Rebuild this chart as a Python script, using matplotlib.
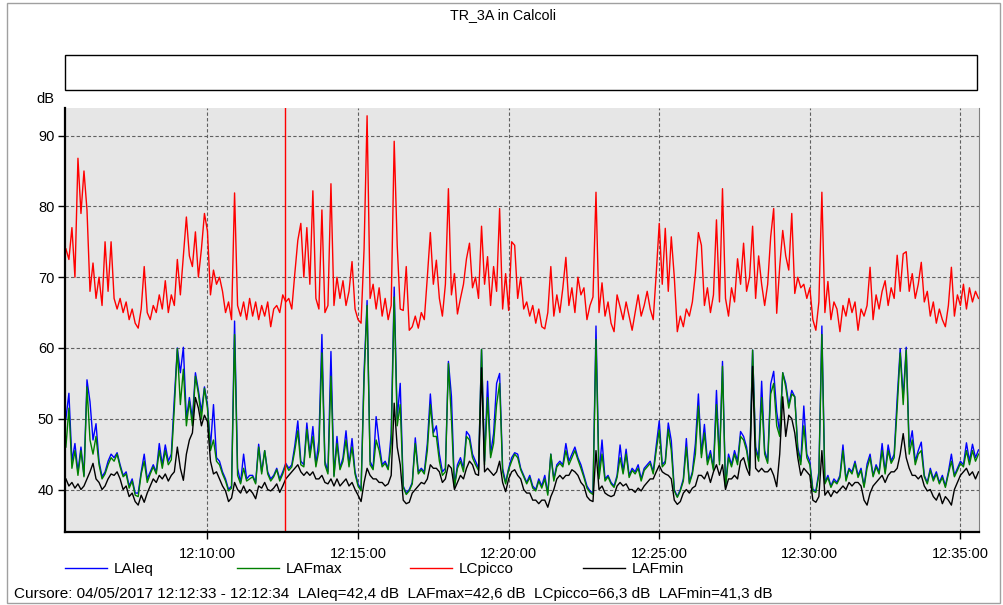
import numpy as np
import matplotlib
matplotlib.use("Agg")
import matplotlib.pyplot as plt
import matplotlib.dates as mdates
from matplotlib.patches import Rectangle

# ==========================================
# DATA (one sample every 6 s, from 12:05:18)
# ==========================================

START = np.datetime64("2017-05-04T12:05:18")
STEP_S = 6

lc_picco = [
    74, 72.5, 77, 70, 86.8, 79, 85, 79.5, 68, 72,
    67, 70, 66, 75, 68, 75, 67, 65.5, 67, 65,
    66.5, 64, 65.5, 63.5, 62.8, 65.5, 71.5, 65, 64, 66,
    65, 67.5, 65.5, 69.5, 65, 67.5, 66, 72.5, 67.5, 73,
    78.5, 73, 71.5, 76.4, 70, 74, 79, 76.5, 67.5, 71,
    69, 70, 68, 65, 66.5, 64, 81.9, 66, 64.5, 66.5,
    64, 67, 64.5, 66.5, 64, 66, 64.5, 66.5, 63, 65.5,
    66, 65, 67.5, 66.5, 67, 65.5, 70.5, 75.2, 77.6, 70,
    77, 69, 82.2, 67, 65.5, 79.5, 65, 66, 83.2, 66,
    70, 67, 69.5, 66, 68, 72.2, 65.5, 64, 63.5, 74,
    92.8, 67, 69, 65.5, 68.5, 64.5, 67, 64, 66, 89.2,
    74.5, 65.5, 65.3, 71.5, 62.5, 63, 64.5, 62.8, 65, 64,
    70, 76.3, 69, 72.4, 67, 64.5, 69, 82.5, 67.5, 70.5,
    64.8, 67, 69, 72.6, 74.8, 68.5, 70, 67, 77.2, 69,
    72.9, 66, 71.5, 68, 79.7, 65.5, 70.5, 65.3, 75, 74.5,
    67, 70, 65.5, 66.5, 64.5, 66, 63.5, 65.5, 63, 62.7,
    65, 71.5, 64.5, 67.5, 65, 68.5, 72.8, 66, 68.5, 65,
    70, 67.5, 68.5, 64, 66, 67.2, 82, 65, 69.2, 64.5,
    66.5, 63.5, 62.3, 67.5, 65.8, 64, 66.5, 64.5, 62.5, 65,
    67.5, 64.5, 66, 68, 65.5, 64, 70.5, 77.6, 69, 76.9,
    68, 75.7, 70, 62.3, 64.5, 63, 65.5, 64.5, 66.5, 70.5,
    76.3, 74.5, 66, 68.5, 65, 67.5, 78.1, 66.5, 82.5, 67,
    64.5, 68.5, 66.5, 72.6, 69, 74.8, 68, 70, 77.2, 67,
    73, 69, 66, 69, 75.7, 79.7, 64.9, 71.5, 76.6, 73,
    71, 79, 67.7, 70, 68.5, 69, 67, 68.5, 64, 62.5,
    66.5, 82, 65, 69.4, 64, 66.5, 65.5, 62.3, 66, 64.5,
    67, 65, 66.5, 62.5, 65.5, 64.5, 66, 71.4, 64, 67.5,
    65.5, 68, 69.5, 66, 68.5, 67, 73.1, 68, 73.3, 73.6,
    68, 70.5, 67, 69, 72.1, 66.5, 68, 64.5, 66.5, 63.5,
    65.5, 64, 63, 66, 71.4, 64.5, 67.5, 66, 69, 65.5,
    68.5, 66.5, 68, 67,
]

la_ieq = [
    50, 53.6, 44, 46.5, 42.5, 46, 42, 55.5, 52.4, 47,
    49.3, 44, 41.8, 42.5, 44, 45, 44.5, 45.2, 43.5, 42,
    42.5, 40.5, 41.5, 39.5, 39.5, 42.5, 45, 41.5, 42.5, 43.5,
    42.5, 46.5, 43.5, 46.3, 44, 45, 52.9, 60, 56.5, 60.1,
    50, 53, 50, 56.5, 54, 51, 54.5, 52, 46, 52,
    44.5, 44, 42.5, 41.5, 40, 40.5, 63.8, 43, 41, 45,
    41.5, 42, 42, 41, 46.4, 42.5, 45.5, 42.5, 41.5, 42,
    43, 41.5, 42.5, 43.7, 43, 43.5, 46.2, 49.7, 44, 43.5,
    49.4, 45, 48.9, 43.5, 47, 61.9, 44, 42.5, 59.5, 42,
    47.5, 43, 44.5, 48.3, 43.5, 47.2, 42.5, 40.8, 40, 56.7,
    66.7, 44, 43, 50.3, 46.6, 43.5, 44, 43, 47.9, 68.6,
    50, 55, 40.5, 39.5, 40, 41, 47.3, 42.5, 43, 42.5,
    46.5, 53.5, 48, 49, 45, 42.5, 43, 58.1, 53.2, 40.5,
    43.5, 44.5, 43, 48.2, 47.6, 45, 44, 43, 59.8, 44,
    55.3, 45, 47.9, 55, 56.4, 43, 41, 43, 44.5, 45.2,
    45, 43, 42, 41, 42, 40.5, 40, 41.5, 40.5, 42,
    39.5, 45, 41.5, 43.5, 44, 43.5, 46.5, 44, 45, 46,
    44.5, 43.5, 42, 40.5, 39.8, 39.5, 63.1, 42, 47, 41.5,
    42, 41, 40.5, 42, 46.3, 42.5, 45.7, 42, 43, 42.5,
    43.5, 41.5, 43, 43.5, 44, 42.5, 46.2, 49.7, 43.5, 44,
    49.4, 46.9, 40, 39, 40, 41.5, 47.2, 41, 42.5, 46.5,
    53.5, 45, 49.2, 44, 45.5, 43, 54, 44, 58.1, 40.5,
    45, 43.5, 45.5, 44, 48.2, 47.5, 46, 43, 59.7, 46,
    44.5, 55.3, 45.5, 44, 54.9, 56.7, 51, 48, 56.5, 55,
    52, 54, 53.1, 46, 44, 51.8, 45, 44, 40, 39.8,
    42.5, 63.1, 41, 42, 40.5, 41.5, 41, 42, 46.3, 41.5,
    43, 42.5, 44, 42, 43, 40.5, 43.6, 45, 42, 43.5,
    42.5, 46.5, 42.5, 46.3, 44, 45, 52.9, 59.9, 53, 60.1,
    46, 48.3, 44, 45.5, 46.7, 42, 41, 43, 41.5, 42.5,
    41, 42, 40.5, 42.5, 45, 42, 43, 44, 43.5, 46.6,
    44, 46.4, 44.5, 45.6,
]

laf_max = [
    46, 51.5, 43, 45.5, 42, 45.5, 41.8, 54.5, 47, 45,
    47.5, 43.5, 41.5, 42.2, 43.5, 44.5, 44, 45, 43.2, 41.8,
    42.2, 40.2, 41.2, 39.2, 39, 42.2, 44, 41, 42.2, 43.2,
    42.2, 45.5, 43, 45.5, 43.5, 44.2, 51.5, 59.9, 52, 57,
    49, 52.5, 49, 56, 53.5, 50, 54.3, 51.5, 45.5, 47,
    44, 43.5, 42.2, 41.2, 39.8, 40.2, 61.9, 42, 40.8, 43,
    41.2, 41.5, 41.8, 40.8, 46, 42.2, 45.5, 42.2, 41.2, 41.8,
    42.8, 41.2, 42.2, 43.5, 42.7, 43.2, 45.5, 48.3, 43.5, 43.2,
    48.5, 44.5, 47.5, 43.2, 45.5, 59.3, 43.5, 42.2, 56, 41.8,
    46.5, 42.8, 44, 47, 43.2, 46, 42.2, 40.5, 39.8, 55.5,
    66, 43.5, 42.8, 47, 45.5, 43.2, 43.7, 42.8, 46.5, 67.2,
    49, 52, 40.3, 39.3, 39.8, 40.8, 46.5, 42.2, 42.8, 42.2,
    45.5, 52, 47.5, 47.5, 44, 42, 42.5, 57.8, 50, 40.3,
    43, 44, 42.5, 47.5, 47, 44.5, 43.5, 42.7, 59.8, 43.5,
    53, 44.5, 46.5, 52, 55, 42.5, 40.8, 42.8, 44, 45,
    44.5, 42.8, 41.8, 40.8, 41.7, 40.2, 39.8, 41.2, 40.2, 41.5,
    39.2, 45, 41.2, 43.2, 43.7, 43.2, 45.5, 43.5, 44.5, 45.5,
    44.2, 43, 41.7, 40.2, 39.6, 39.3, 61.2, 41.5, 45, 41.2,
    41.8, 40.8, 40.3, 41.7, 44.5, 42.2, 45, 41.7, 42.7, 42.2,
    43, 41.2, 42.7, 43.2, 43.7, 42.2, 45.5, 48.4, 43.2, 43.7,
    48.5, 45.5, 39.8, 38.9, 39.8, 41.2, 46, 40.8, 42.2, 45,
    51.8, 44.5, 48, 43.5, 45, 42.7, 52, 43.5, 57.4, 40.3,
    44.5, 43.2, 45, 43.5, 47.5, 47, 45.5, 42.7, 59.7, 45.5,
    44, 53, 45, 43.7, 53.5, 55, 49, 47.5, 56.5, 54.5,
    51.5, 53.5, 53.1, 45.5, 43.5, 49, 44.5, 43.5, 39.8, 39.6,
    42, 61.9, 40.8, 41.7, 40.3, 41.2, 40.8, 41.7, 45.5, 41.2,
    42.8, 42.2, 43.7, 41.7, 42.7, 40.3, 43, 44.5, 41.8, 43.2,
    42.2, 45.5, 42.2, 45.5, 43.7, 44.5, 51.5, 59.3, 52, 59.7,
    45, 47, 43.5, 45, 45.5, 41.8, 40.8, 42.7, 41.2, 42.2,
    40.8, 41.7, 40.3, 42.2, 44, 41.8, 42.7, 43.7, 43.2, 45.5,
    43.5, 45.5, 44, 45,
]

laf_min = [
    41.5, 40.5, 41, 40.2, 40.8, 40, 40.5, 41.5, 42.5, 43.7,
    41.5, 41, 40, 40.5, 41.5, 42.2, 42, 42.5, 41.5, 40,
    40.5, 39, 39.5, 38.3, 37.8, 39.2, 38.2, 39.5, 40.5, 41.5,
    41, 42, 41.5, 42.2, 41.2, 42, 42.5, 46, 43, 41.3,
    45, 47, 48, 53, 51.5, 49, 50.5, 49.6, 44, 42.2,
    42.5, 41.5, 40.5, 39.8, 38.3, 38.8, 41, 40, 39.5, 40.5,
    39.5, 40, 39.5, 38.7, 40.5, 40.2, 41, 40, 39.8, 40.2,
    40.8, 39.6, 40.5, 41.5, 42, 42.5, 43, 43.5, 42.5, 42,
    42.5, 42, 42.5, 41.5, 41.5, 42, 41, 40.8, 41.5, 40.5,
    41.5, 40.5, 41, 41.5, 40.5, 41, 40, 39.2, 38.3, 41,
    43, 42, 41.5, 41.5, 41, 41, 40.5, 40.8, 42, 52.2,
    46, 43.5, 38.5, 38, 38.2, 39.5, 40, 40.5, 41, 40.8,
    41.5, 43.5, 43, 43, 42.5, 41, 41.5, 43.5, 43, 40,
    41, 42, 41.5, 43, 44, 43.5, 42.2, 42, 57.2, 42.5,
    43, 42.5, 42, 42.5, 44, 41, 39.7, 41.5, 42.5, 42.8,
    42, 41.5, 40, 39.5, 39.5, 38.5, 38.5, 38, 38.5, 38.5,
    37.5, 39, 40, 41.5, 42, 41.5, 42, 42, 42.8, 42.5,
    42, 41, 40.5, 39, 38.5, 38.3, 45.5, 40, 40.5, 39.5,
    39.2, 39, 39.2, 40.5, 41, 40.5, 40.8, 40, 40, 39.6,
    40.2, 39.8, 40.5, 41, 41.5, 41.5, 42.5, 43.4, 42.5, 42.2,
    42, 41.5, 38.5, 37.9, 38.3, 39.5, 40, 39.5, 40.2, 40.5,
    42, 42, 41.5, 42.5, 41, 42.5, 43.5, 42, 43.5, 40,
    41.5, 41.5, 42, 41.5, 44, 44.5, 43, 42, 57.4, 43,
    42.5, 43, 42.5, 42.5, 43, 42, 40.4, 45, 53.1, 47.5,
    50.5, 50, 48, 44.5, 42, 43, 42.5, 42, 38.5, 38.2,
    39, 45.5, 39.2, 39.8, 39, 39.8, 39.5, 40, 40.5, 40,
    41, 40.5, 41, 41, 40.5, 38.5, 37.8, 39.5, 40.5, 41,
    41.5, 42, 41, 42, 42.5, 42.5, 43, 45, 47.9, 44.5,
    43, 42, 42, 41.5, 42, 40.5, 39.8, 40, 39, 38.5,
    39.5, 38, 39, 38.5, 37.8, 40, 41, 42, 42.5, 43,
    42, 42.5, 41.5, 42.5,
]

series_names = ["LAIeq", "LAFmax", "LCpicco", "LAFmin"]
series_colors = ["#0000ff", "#008000", "#ff0000", "#000000"]

CURSOR = np.datetime64("2017-05-04T12:12:34")
X_START = np.datetime64("2017-05-04T12:05:17")
X_END = np.datetime64("2017-05-04T12:35:37")

footer = ("Cursore: 04/05/2017 12:12:33 - 12:12:34  LAIeq=42,4 dB  "
          "LAFmax=42,6 dB  LCpicco=66,3 dB  LAFmin=41,3 dB")

# ==========================================
# FIGURE
# ==========================================

plt.rcParams["font.family"] = ["Liberation Sans", "DejaVu Sans"]
plt.rcParams["font.size"] = 10.5

W, H = 1004, 605
fig = plt.figure(figsize=(W / 100, H / 100), dpi=100)

# outer frame and empty header box
fig.patches.append(Rectangle((7 / W, 2 / H), 993 / W, 600 / H,
                             transform=fig.transFigure, fill=False,
                             edgecolor="#a0a0a0", linewidth=1))
fig.patches.append(Rectangle((65 / W, 1 - 90 / H), 912 / W, 35 / H,
                             transform=fig.transFigure, facecolor="white",
                             edgecolor="black", linewidth=1))

fig.text(0.501, 1 - 15 / H, "TR_3A in Calcoli", ha="center", va="center",
         fontsize=10.3)
fig.text(36 / W, 1 - 99 / H, "dB", ha="left", va="center")

ax = fig.add_axes([65.4 / W, 1 - 532 / H, (979 - 65.4) / W, (532 - 108) / H])
ax.set_facecolor("#e6e6e6")

# ==========================================
# LINES
# ==========================================

times = START + np.arange(len(lc_picco)) * np.timedelta64(STEP_S, "s")

values = [la_ieq, laf_max, lc_picco, laf_min]
handles = []
for name, col, vals in zip(series_names, series_colors, values):
    h, = ax.plot(times, vals, color=col, linewidth=1.0, label=name)
    handles.append(h)

ax.axvline(CURSOR, color="#ff0000", linewidth=1.0)

# ==========================================
# AXES
# ==========================================

ax.set_xlim(X_START, X_END)
ax.set_ylim(34.0, 93.9)
ax.set_yticks([40, 50, 60, 70, 80, 90])

ax.xaxis.set_major_locator(mdates.MinuteLocator(byminute=range(0, 60, 5)))
ax.xaxis.set_major_formatter(mdates.DateFormatter("%H:%M:%S"))

ax.grid(True, color="#606060", linestyle=(0, (3, 2)), linewidth=0.8)
ax.set_axisbelow(True)

ax.tick_params(direction="out", length=5, width=1, labelsize=10.5, pad=3)
ax.tick_params(axis="x", pad=6)

ax.spines["top"].set_visible(False)
ax.spines["right"].set_color("#808080")
ax.spines["right"].set_linewidth(0.8)
ax.spines["left"].set_linewidth(1.6)
ax.spines["bottom"].set_linewidth(1.6)

# ==========================================
# LEGEND + FOOTER
# ==========================================

legend_x = [65, 237, 410, 583]
for h, name, lx in zip(handles, series_names, legend_x):
    fig.legend(handles=[h], labels=[name], loc="center left",
               bbox_to_anchor=(lx / W, 1 - 569 / H), frameon=False,
               borderpad=0, borderaxespad=0, handlelength=2.75,
               handletextpad=0.45, fontsize=11)

fig.text(14 / W, 1 - 594 / H, footer, ha="left", va="center", fontsize=11)

fig.savefig("out.png", dpi=100)
